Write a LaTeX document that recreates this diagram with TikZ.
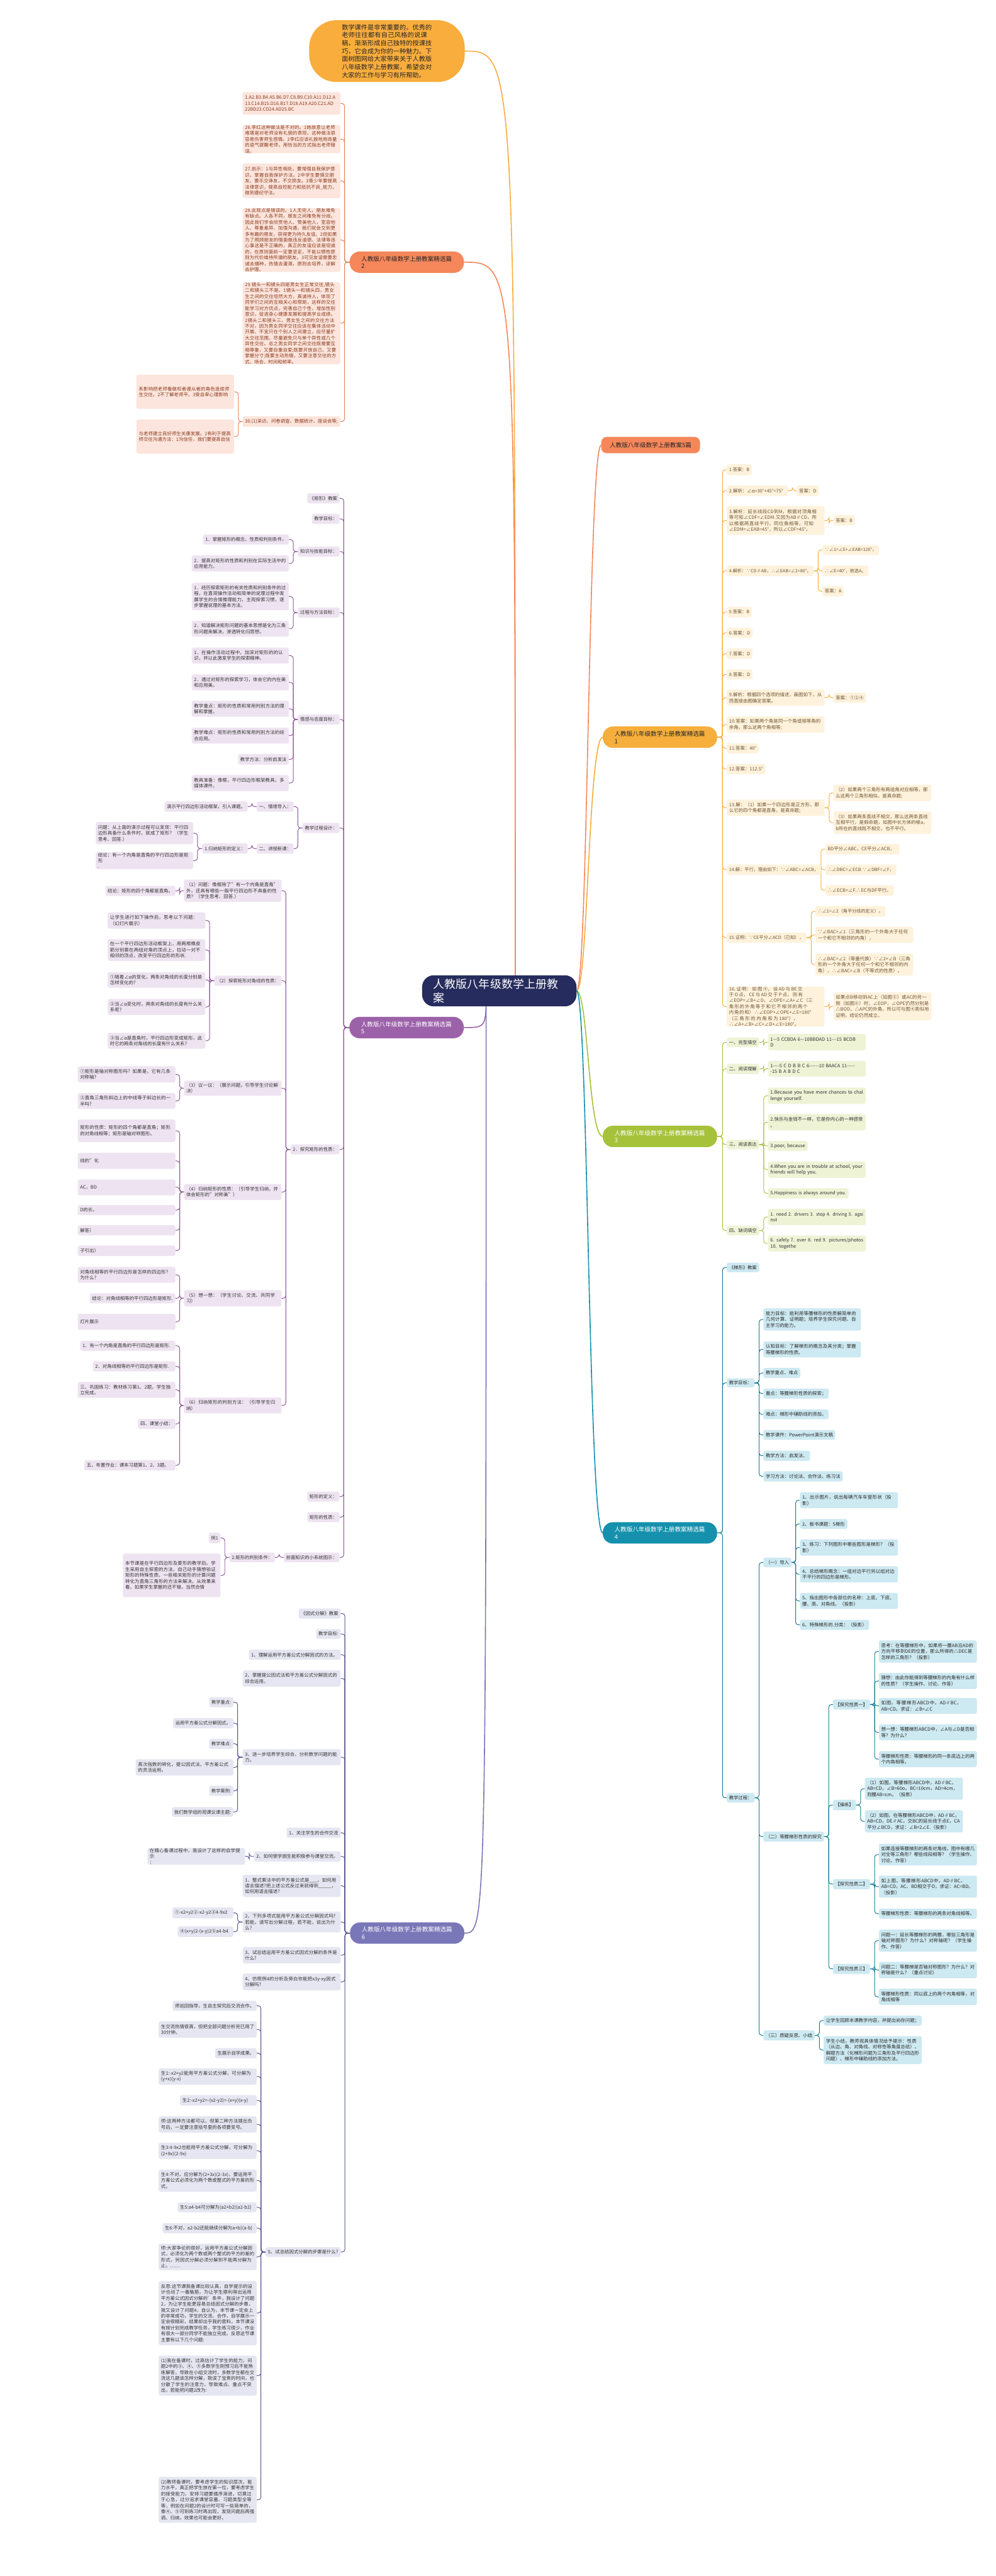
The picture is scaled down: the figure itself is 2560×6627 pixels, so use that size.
\documentclass[tikz,border=0pt]{standalone}
\usepackage{fontspec}
\usepackage{graphicx}
\setmainfont{Noto Sans CJK SC}
\XeTeXlinebreaklocale "zh"
\XeTeXlinebreakskip=0pt plus 1pt
\usetikzlibrary{calc}
\pgfdeclarelayer{back}\pgfdeclarelayer{bg}
\pgfsetlayers{back,bg,main}
\definecolor{bubO}{HTML}{F9AD3D}
\definecolor{c1node}{HTML}{F5875B}\definecolor{c1line}{HTML}{E9825A}\definecolor{c1fill}{HTML}{FCE5DC}\definecolor{c1text}{HTML}{8A3A1E}
\definecolor{c2node}{HTML}{F6AE3C}\definecolor{c2line}{HTML}{F4B03E}\definecolor{c2fill}{HTML}{FEF2DC}\definecolor{c2text}{HTML}{6E5433}
\definecolor{c3node}{HTML}{A6C23A}\definecolor{c3line}{HTML}{A9C43C}\definecolor{c3fill}{HTML}{EEF3D6}\definecolor{c3text}{HTML}{333333}
\definecolor{c4node}{HTML}{1591AD}\definecolor{c4line}{HTML}{167C93}\definecolor{c4fill}{HTML}{CDE9F1}\definecolor{c4text}{HTML}{2A2A2A}
\definecolor{c5node}{HTML}{9C62A9}\definecolor{c5line}{HTML}{8C5A98}\definecolor{c5fill}{HTML}{EEE4F1}\definecolor{c5text}{HTML}{333333}
\definecolor{c6node}{HTML}{7A77B8}\definecolor{c6line}{HTML}{5A5990}\definecolor{c6fill}{HTML}{E6E6F2}\definecolor{c6text}{HTML}{333333}
\definecolor{ctrC}{HTML}{262C5D}
\newcommand\fs{\fontsize{12}{15.3}\selectfont}
\newcommand\ft{\fontsize{15.5}{19}\selectfont}
\newsavebox\fitsb
\newcommand\fitbox[2]{\pgfmathsetlengthmacro\fbw{#1}\sbox\fitsb{#2}\ifdim\wd\fitsb>\fbw\relax\resizebox{\fbw}{!}{\usebox\fitsb}\else\usebox\fitsb\fi}
\tikzset{
  every node/.style={inner sep=0pt,outer sep=0pt},
  bxs/.style={rounded corners=5pt,align=left,font=\fs},
  k1/.style={bxs,fill=c1fill,text=c1text},
  k2/.style={bxs,fill=c2fill,text=c2text},
  k3/.style={bxs,fill=c3fill,text=c3text},
  k4/.style={bxs,fill=c4fill,text=c4text},
  k5/.style={bxs,fill=c5fill,text=c5text},
  k6/.style={bxs,fill=c6fill,text=c6text},
  ln/.style={line width=1.6pt,rounded corners=7pt},
  l1/.style={ln,draw=c1line}, l2/.style={ln,draw=c2line}, l3/.style={ln,draw=c3line},
  l4/.style={ln,draw=c4line}, l5/.style={ln,draw=c5line}, l6/.style={ln,draw=c6line},
  crv/.style={line width=2.6pt},
  ttl/.style={rounded corners=26pt,align=left,font=\ft,minimum width=294,minimum height=55,text width=234},
}
\newcommand\bx[7]{\node[#2,minimum width={#5-#3},minimum height={#6-#4},text width={#5-#3-12}] (#1) at ({(#3+#5)/2},{(#4+#6)/2}) {#7};}
\newcommand\bl[7]{\bx{#1}{#2}{#3}{#4}{#5}{#6}{\fitbox{#5-#3-12}{#7}}}
\newcommand\cR[3]{\draw[#1] (#2.east) -| ([xshift=-11pt]#3.west) -- (#3.west);}
\newcommand\cL[3]{\draw[#1] (#2.west) -| ([xshift=11pt]#3.east) -- (#3.east);}
\newcommand\crR[2]{\draw[crv,#1] (ctr.east) .. controls ([xshift=30pt]ctr.east) and ([xshift=30pt]ctr.east |- #2.west) .. (#2.west);}
\begin{document}
\begin{tikzpicture}[x=1pt,y=-1pt]
\begin{pgfonlayer}{back}\fill[white] (0,0) rectangle (2560,6627);\end{pgfonlayer}
\useasboundingbox (0,0) rectangle (2560,6627);
% ---------- centre and top bubble
\node[fill=ctrC,text=white,rounded corners=30pt,minimum width=397,minimum height=80,text width=340,align=left,font=\fontsize{29}{36}\selectfont] (ctr) at (1284,2549) {人教版八年级数学上册教案};
\coordinate (hubT) at (1325,2549);
\coordinate (hubB) at (1250,2549);
\node[fill=bubO,rounded corners=70pt,minimum width=400,minimum height=159,text width=232,align=left,text=black!85,font=\fontsize{16.5}{20.4}\selectfont] (bub) at (995,131.5) {数学课件是非常重要的。优秀的老师往往都有自己风格的说课稿，渐渐形成自己独特的授课技巧，它会成为你的一种魅力。下面树图网给大家带来关于人教版八年级数学上册教案，希望会对大家的工作与学习有所帮助。};
\node[fill=c1node,rounded corners=14pt,minimum width=254,minimum height=42,font=\ft,text=black!85] (b0) at (1673,1145) {人教版八年级数学上册教案5篇};
% ---------- branch titles
\node[ttl,fill=c1node,text=black!85] (b1) at (1046,674.5) {人教版八年级数学上册教案精选篇2};
\node[ttl,fill=c2node,text=black!85] (b2) at (1697,1896.5) {人教版八年级数学上册教案精选篇1};
\node[ttl,fill=c3node,text=white] (b3) at (1697,2923.5) {人教版八年级数学上册教案精选篇3};
\node[ttl,fill=c4node,text=white] (b4) at (1697,3943.5) {人教版八年级数学上册教案精选篇4};
\node[ttl,fill=c5node,text=white] (b5) at (1045.5,2643.5) {人教版八年级数学上册教案精选篇5};
\node[ttl,fill=c6node,text=white] (b6) at (1047,4973) {人教版八年级数学上册教案精选篇6};
% ---------- branch 1
\bx{b1c1}{k1}{624}{237}{875}{295}{1.A2.B3.B4.A5.B6.D7.C8.B9.C10.A11.D12.A\\13.C14.B15.D16.B17.D18.A19.A20.C21.AD\\22BD23.CD24.AD25.BC}
\bx{b1c2}{k1}{624}{322}{875}{394}{26.李红这种做法是不对的。1她故意让老师难堪是对老师没有礼貌的表现，这种做法很容易伤害师生感情。2李红应该礼貌地用商量的语气提醒老师，用恰当的方式指出老师错误。}
\bx{b1c3}{k1}{624}{421}{875}{510}{27.启示：1与异性相处，要增强自我保护意识，掌握自我保护方法。2中学生要慎交朋友，要乐交诤友，不交损友。3青少年要提高法律意识，提高自控能力和抵抗不良\_能力，做到遵纪守法。}
\bx{b1c4}{k1}{624}{536}{875}{699}{28.此观点是错误的。1人无完人，朋友难免有缺点。人各不同，朋友之间难免有分歧。因此我们学会欣赏他人、赞美他人，宽容他人、尊重差异、加强沟通，我们就会交到更多有趣的朋友，获得更为持久友谊。2但如果为了照顾朋友的情面做违反道德、法律等违心事这是不正确的，真正的友谊应该是坦诚的，在原则面前一定要坚定，不能以牺牲原则为代价维持所谓的朋友。3可见友谊需要忠诚去播种，热情去灌溉，原则去培养，谅解去护理。}
\bx{b1c5}{k1}{624}{726}{875}{937}{29.镜头一和镜头四是男女生正常交往,镜头二和镜头三不是。1镜头一和镜头四，男女生之间的交往坦然大方，真诚待人，体现了同学们之间的互相关心和帮助，这样的交往能学习对方优点，完善自己个性，增加性别意识，促进身心健康发展和提高学业成绩。2镜头二和镜头三，男女生之间的交往方法不对，因为男女同学交往应该在集体活动中开展，不宜只在个别人之间建立，应尽量扩大交往范围，尽量避免只与单个异性或几个异性交往。总之男女同学之间交往既需要互相尊重，又要自重自爱;既要开放自己，又要掌握分寸;既要主动热情，又要注意交往的方式、场合、时间和频率。}
\bl{b1c6}{k1}{624}{1071}{875}{1098}{30.(1)采访、问卷调查、数据统计、座谈会等;}
\bx{b1c6a}{k1}{351}{964}{602}{1052}{系影响把老师看做权者遵从者的角色造成师生交往。2不了解老师平。3受自卑心理影响}
\bx{b1c6b}{k1}{351}{1079}{602}{1167}{与老师建立良好师生关康发展。2有利于提高师交往沟通方法：1沟信任，我们要提高自信}
% ---------- branch 2
\bl{b2c1}{k2}{1869}{1194}{1933}{1223}{1.答案：B}
\bl{b2c2}{k2}{1869}{1249}{2026}{1276}{2.解析：∠α=30°+45°=75°}
\bl{b2c2a}{k2}{2049}{1249}{2105}{1276}{答案：D}
\bx{b2c3}{k2}{1869}{1302}{2120}{1376}{3.解析：延长线段CD到M，根据对顶角相等可知∠CDF=∠EDM.又因为AB∥CD，所以根据两直线平行，同位角相等，可知∠EDM=∠EAB=45°，所以∠CDF=45°。}
\bl{b2c3a}{k2}{2143}{1325}{2198}{1352}{答案：B}
\bl{b2c4}{k2}{1869}{1455}{2092}{1482}{4.解析：∵CD∥AB，∴∠EAB=∠2=80°。}
\bl{b2c4a}{k2}{2115}{1402}{2260}{1428}{∵∠1=∠E+∠EAB=120°，}
\bl{b2c4b}{k2}{2115}{1455}{2233}{1482}{∴∠E=40°，故选A。}
\bl{b2c4c}{k2}{2115}{1508}{2170}{1534}{答案：A}
\bl{b2c5}{k2}{1869}{1561}{1933}{1588}{5.答案：B}
\bl{b2c6}{k2}{1869}{1615}{1935}{1641}{6.答案：D}
\bl{b2c7}{k2}{1869}{1668}{1935}{1695}{7.答案：D}
\bl{b2c8}{k2}{1869}{1722}{1935}{1748}{8.答案：D}
\bx{b2c9}{k2}{1869}{1774}{2120}{1816}{9.解析：根据四个选项的描述，画图如下，从而直接由图确定答案。}
\bl{b2c9a}{k2}{2143}{1782}{2227}{1808}{答案：①②④}
\bx{b2c10}{k2}{1869}{1843}{2120}{1885}{10.答案：如果两个角是同一个角或相等角的余角，那么这两个角相等;}
\bl{b2c11}{k2}{1869}{1912}{1951}{1938}{11.答案：40°}
\bl{b2c12}{k2}{1869}{1965}{1968}{1992}{12.答案：112.5°}
\bx{b2c13}{k2}{1869}{2057}{2120}{2099}{13.解：（1）如果一个四边形是正方形，那么它的四个角都是直角，是真命题;}
\bx{b2c13a}{k2}{2143}{2019}{2395}{2061}{（2）如果两个三角形有两组角对应相等，那么这两个三角形相似，是真命题;}
\bx{b2c13b}{k2}{2143}{2087}{2395}{2145}{（3）如果两条直线不相交，那么这两条直线互相平行，是假命题，如图中长方体的棱a，b所在的直线既不相交，也不平行。}
\bl{b2c14}{k2}{1869}{2224}{2111}{2251}{14.解：平行，理由如下：∵∠ABC=∠ACB，}
\bl{b2c14a}{k2}{2122}{2171}{2313}{2198}{BD平分∠ABC，CE平分∠ACB，}
\bl{b2c14b}{k2}{2122}{2224}{2305}{2251}{∴∠DBC=∠ECB.∵∠DBF=∠F，}
\bl{b2c14c}{k2}{2122}{2277}{2298}{2304}{∴∠ECB=∠F.∴EC与DF平行。}
\bl{b2c15}{k2}{1869}{2399}{2073}{2425}{15.证明：∵CE平分∠ACD（已知），}
\bl{b2c15a}{k2}{2097}{2331}{2277}{2358}{∴∠1=∠2（角平分线的定义）。}
\bx{b2c15b}{k2}{2097}{2384}{2348}{2426}{∵∠BAC>∠1（三角形的一个外角大于任何一个和它不相邻的内角），}
\bx{b2c15c}{k2}{2097}{2453}{2348}{2510}{∴∠BAC>∠2（等量代换）∵∠2>∠B（三角形的一个外角大于任何一个和它不相邻的内角），∴∠BAC>∠B（不等式的性质）。}
\bx{b2c16}{k2}{1869}{2538}{2120}{2641}{16.证明：如图④，设AD与BE交于O点，CE与AD交于P点，则有∠EOP=∠B+∠D，∠OPE=∠A+∠C（三角形的外角等于和它不相邻的两个内角的和）∴∠EOP+∠OPE+∠E=180°（三角形的内角和为180°），∴∠A+∠B+∠C+∠D+∠E=180°。}
\bx{b2c16a}{k2}{2143}{2553}{2395}{2625}{如果点B移动到AC上（如图⑤）或AC的另一侧（如图⑥）时，∠EOP，∠OPE仍然分别是△BOD，△APC的外角，所以可与图④类似地证明，结论仍然成立。}
% ---------- branch 3
\bl{b3c1}{k3}{1869}{2669}{1952}{2694}{一、完型填空}
\bx{b3c1a}{k3}{1975}{2660}{2226}{2702}{\fitbox{239}{1—5 CCBDA 6—10BBDAD 11-{}-{}-15 BCDB}\\D}
\bl{b3c2}{k3}{1869}{2737}{1952}{2763}{二、阅读理解}
\bx{b3c2a}{k3}{1975}{2729}{2226}{2770}{\fitbox{239}{1-{}-{}-{}-5 C D B B C 6-{}-{}-{}-{}-{}-10 BAACA 11-{}-{}-{}-{}-}\\\mbox{-15 B A B D C}}
\bl{b3c3}{k3}{1869}{2932}{1952}{2957}{三、阅读表达}
\bx{b3c3a}{k3}{1975}{2798}{2226}{2840}{\fitbox{239}{1.Because you have more chances to chal}\\lenge yourself.}
\bx{b3c3b}{k3}{1975}{2866}{2226}{2908}{2.快乐与金钱不一样，它是你内心的一种感受\\。}
\bl{b3c3c}{k3}{1975}{2935}{2077}{2961}{3.poor, because}
\bx{b3c3d}{k3}{1975}{2988}{2226}{3030}{\fitbox{239}{4.When you are in trouble at school, your}\\ friends will help you.}
\bl{b3c3e}{k3}{1975}{3057}{2182}{3083}{5.Happiness is always around you.}
\bl{b3c4}{k3}{1869}{3153}{1952}{3178}{四、缺词填空}
\bx{b3c4a}{k3}{1975}{3110}{2226}{3152}{\fitbox{239}{1. need 2. drivers 3. stop 4. driving 5. agai}\\nst}
\bx{b3c4b}{k3}{1975}{3178}{2226}{3220}{\fitbox{239}{6. safely 7. over 8. red 9. pictures/photos}\\10. togethe}
% ---------- branch 4
\bl{b4c1}{k4}{1869}{3248}{1952}{3273}{《梯形》教案}
\bl{b4c2}{k4}{1869}{3546}{1940}{3569}{教学目标：}
\bx{b4c2a}{k4}{1963}{3366}{2214}{3423}{能力目标：能利用等腰梯形的性质解简单的几何计算、证明题；培养学生探究问题、自主学习的能力。}
\bx{b4c2b}{k4}{1963}{3451}{2214}{3492}{认知目标：了解梯形的概念及其分类；掌握等腰梯形的性质。}
\bl{b4c2c}{k4}{1963}{3519}{2058}{3545}{教学重点、难点}
\bl{b4c2d}{k4}{1963}{3572}{2131}{3598}{重点：等腰梯形性质的探索；}
\bl{b4c2e}{k4}{1963}{3626}{2131}{3651}{难点：梯形中辅助线的添加。}
\bl{b4c2f}{k4}{1963}{3679}{2148}{3704}{教学课件：PowerPoint演示文稿}
\bl{b4c2g}{k4}{1963}{3732}{2083}{3758}{教学方法：启发法、}
\bl{b4c2h}{k4}{1963}{3785}{2167}{3811}{学习方法：讨论法、合作法、练习法}
\bl{b4c3}{k4}{1869}{4613}{1940}{4637}{教学过程：}
\bl{b4c3a}{k4}{1963}{4007}{2035}{4032}{（一）导入}
\bx{b4c3a1}{k4}{2057}{3839}{2309}{3880}{1、出示图片，说出每辆汽车车窗形状（投影）}
\bl{b4c3a2}{k4}{2057}{3908}{2179}{3933}{2、板书课题：5梯形}
\bx{b4c3a3}{k4}{2057}{3960}{2309}{4002}{3、练习：下列图形中哪些图形是梯形？（投影）}
\bx{b4c3a4}{k4}{2057}{4029}{2309}{4071}{4、总结梯形概念：一组对边平行另以组对边不平行的四边形是梯形。}
\bx{b4c3a5}{k4}{2057}{4098}{2309}{4139}{5、指出图形中各部位的名称：上底、下底、腰、高、对角线。（投影）}
\bl{b4c3a6}{k4}{2057}{4167}{2235}{4193}{6、特殊梯形的.分类：（投影）}
\bl{b4c3b}{k4}{1963}{4712}{2119}{4738}{（二）等腰梯形性质的探究}
\bl{b4c3b1}{k4}{2142}{4372}{2237}{4398}{【探究性质一】}
\bx{b4c3b1a}{k4}{2260}{4220}{2512}{4277}{思考：在等腰梯形中，如果将一腰AB沿AD的方向平移到DE的位置，那么所得的△DEC是怎样的三角形？（投影）}
\bx{b4c3b1b}{k4}{2260}{4304}{2512}{4345}{猜想：由此你能得到等腰梯形的内角有什么样的性质？（学生操作、讨论、作答）}
\bx{b4c3b1c}{k4}{2260}{4368}{2512}{4409}{如图，等腰梯形ABCD中，AD∥BC，AB=CD。求证：∠B=∠C}
\bx{b4c3b1d}{k4}{2260}{4436}{2512}{4477}{想一想：等腰梯形ABCD中，∠A与∠D是否相等？为什么？}
\bx{b4c3b1e}{k4}{2260}{4505}{2512}{4546}{等腰梯形性质：等腰梯形的同一条底边上的两个内角相等。}
\bl{b4c3b2}{k4}{2142}{4630}{2201}{4657}{【操练】}
\bx{b4c3b2a}{k4}{2224}{4573}{2476}{4630}{（1）如图，等腰梯形ABCD中，AD∥BC，AB=CD，∠B=60o，BC=10cm，AD=4cm，则腰AB=cm。（投影）}
\bx{b4c3b2b}{k4}{2224}{4657}{2476}{4714}{（2）如图，在等腰梯形ABCD中，AD∥BC，AB=CD，DE∥AC，交BC的延长线于点E，CA平分∠BCD，求证：∠B=2∠E.（投影）}
\bl{b4c3b3}{k4}{2142}{4834}{2237}{4860}{【探究性质二】}
\bx{b4c3b3a}{k4}{2260}{4743}{2512}{4799}{如果连接等腰梯形的两条对角线，图中有哪几对全等三角形？哪些线段相等？（学生操作、讨论、作答）}
\bx{b4c3b3b}{k4}{2260}{4825}{2512}{4882}{如上图，等腰梯形ABCD中，AD∥BC，AB=CD，AC、BD相交于O，求证：AC=BD。（投影）}
\bl{b4c3b3c}{k4}{2260}{4910}{2512}{4936}{等腰梯形性质：等腰梯形的两条对角线相等。}
\bl{b4c3b4}{k4}{2142}{5052}{2237}{5078}{【探究性质三】}
\bx{b4c3b4a}{k4}{2260}{4964}{2512}{5021}{问题一：延长等腰梯形的两腰，哪些三角形是轴对称图形？为什么？对称轴呢？（学生操作、作答）}
\bx{b4c3b4b}{k4}{2260}{5047}{2512}{5089}{问题二：等腰梯是否轴对称图形？为什么？对称轴是什么？（重点讨论）}
\bx{b4c3b4c}{k4}{2260}{5116}{2512}{5158}{等腰梯形性质：同以底上的两个内角相等，对角线相等}
\bl{b4c3c}{k4}{1963}{5223}{2095}{5249}{（三）质疑反思、小结}
\bl{b4c3c1}{k4}{2118}{5185}{2370}{5211}{让学生回顾本课教学内容，并提出尚存问题；}
\bx{b4c3c2}{k4}{2118}{5238}{2370}{5310}{学生小结，教师视具体情况给予提示：性质（从边、角、对角线、对称性等角度总结）、解题方法（化梯形问题为三角形及平行四边形问题）、梯形中辅助线的添加方法。}
% ---------- branch 5
\bl{b5c1}{k5}{790}{1269}{873}{1295}{《矩形》教案}
\bl{b5c2}{k5}{802}{1322}{873}{1348}{教学目标：}
\bl{b5c3}{k5}{766}{1406}{873}{1432}{知识与技能目标：}
\bl{b5c3a}{k5}{522}{1375}{743}{1401}{1．掌握矩形的概念、性质和判别条件。}
\bx{b5c3b}{k5}{493}{1429}{743}{1470}{2．提高对矩形的性质和判别在实际生活中的应用能力。}
\bl{b5c4}{k5}{766}{1563}{873}{1589}{过程与方法目标：}
\bx{b5c4a}{k5}{493}{1499}{743}{1570}{1．经历探索矩形的有关性质和判别条件的过程，在直观操作活动和简单的说理过程中发展学生的合情推理能力，主观探索习惯，逐步掌握说理的基本方法。}
\bx{b5c4b}{k5}{493}{1597}{743}{1638}{2．知道解决矩形问题的基本思想是化为三角形问题来解决，渗透转化归思想。}
\bl{b5c5}{k5}{766}{1838}{873}{1864}{情感与态度目标：}
\bx{b5c5a}{k5}{493}{1666}{743}{1707}{1．在操作活动过程中，加深对矩形的的认识，并以此激发学生的探索精神。}
\bx{b5c5b}{k5}{493}{1735}{743}{1776}{2．通过对矩形的探索学习，体会它的内在美和应用美。}
\bx{b5c5c}{k5}{493}{1803}{743}{1844}{教学重点：矩形的性质和常用判别方法的理解和掌握。}
\bx{b5c5d}{k5}{493}{1872}{743}{1913}{教学难点：矩形的性质和常用判别方法的综合应用。}
\bl{b5c5e}{k5}{612}{1940}{743}{1967}{教学方法：分析启发法}
\bx{b5c5f}{k5}{493}{1994}{743}{2035}{教具准备：像框，平行四边形框架教具，多媒体课件。}
\bl{b5c6}{k5}{778}{2117}{873}{2143}{教学过程设计：}
\bl{b5c6a}{k5}{660}{2062}{755}{2088}{一、情境导入：}
\bl{b5c6a1}{k5}{423}{2062}{637}{2088}{演示平行四边形活动框架，引入课题。}
\bl{b5c6b}{k5}{660}{2170}{755}{2196}{二、讲授新课：}
\bl{b5c6b1}{k5}{520}{2170}{637}{2196}{1.归纳矩形的定义：}
\bx{b5c6b1a}{k5}{246}{2115}{497}{2172}{问题：从上面的演示过程可以发现：平行四边形具备什么条件时，就成了矩形？（学生思考、回答.）}
\bx{b5c6b1b}{k5}{246}{2192}{497}{2236}{结论：有一个内角是直角的平行四边形是矩形\\.}
\bl{b5c7}{k5}{747}{2944}{873}{2970}{2．探究矩形的性质：}
\bx{b5c7a}{k5}{473}{2263}{724}{2320}{（1）问题：像框除了"有一个内角是直角"外，还具有哪些一般平行四边形不具备的性质？（学生思考、回答.）}
\bl{b5c7a1}{k5}{271}{2279}{451}{2305}{结论：矩形的四个角都是直角。}
\bl{b5c7b}{k5}{551}{2510}{724}{2536}{（2）探索矩形对角线的性质：}
\bx{b5c7b1}{k5}{277}{2347}{528}{2389}{让学生进行如下操作后，思考以下问题：（幻灯片展示）}
\bx{b5c7b2}{k5}{277}{2416}{528}{2472}{在一个平行四边形活动框架上，用两根橡皮筋分别套在两组对角的顶点上，拉动一对不相邻的顶点，改变平行四边形的形状.}
\bx{b5c7b3}{k5}{277}{2501}{528}{2541}{①随着∠α的变化，两条对角线的长度分别是怎样变化的?}
\bx{b5c7b4}{k5}{277}{2570}{528}{2611}{②当∠α变化时，两条对角线的长度有什么关系呢?}
\bx{b5c7b5}{k5}{277}{2657}{528}{2698}{③当∠α是直角时，平行四边形变成矩形，此时它的两条对角线的长度有什么关系?}
\bx{b5c7c}{k5}{473}{2780}{724}{2819}{（3）议一议：（展示问题，引导学生讨论解决）}
\bx{b5c7c1}{k5}{200}{2743}{451}{2785}{①矩形是轴对称图形吗？如果是，它有几条对称轴?}
\bx{b5c7c2}{k5}{200}{2812}{451}{2853}{②直角三角形斜边上的中线等于斜边长的一半吗?}
\bx{b5c7d}{k5}{473}{3046}{724}{3087}{（4）归纳矩形的性质：（引导学生归纳，并体会矩形的"对称美"）}
\bx{b5c7d1}{k5}{200}{2880}{451}{2938}{矩形的性质：矩形的四个角都是直角；矩形的对角线相等；矩形是轴对称图形。}
\bx{b5c7d2}{k5}{200}{2966}{451}{3007}{线的"化}
\bx{b5c7d3}{k5}{200}{3034}{451}{3075}{AC，BD}
\bl{b5c7d4}{k5}{200}{3100}{451}{3126}{D的长。}
\bl{b5c7d5}{k5}{200}{3152}{451}{3178}{解答）}
\bl{b5c7d6}{k5}{200}{3204}{451}{3231}{子引出）}
\bx{b5c7e}{k5}{473}{3319}{724}{3361}{（5）想一想：（学生讨论、交流、共同学习）}
\bx{b5c7e1}{k5}{200}{3259}{451}{3300}{对角线相等的平行四边形是怎样的四边形？为什么?}
\bl{b5c7e2}{k5}{231}{3327}{451}{3353}{结论：对角线相等的平行四边形是矩形.}
\bx{b5c7e3}{k5}{200}{3380}{451}{3421}{灯片展示}
\bx{b5c7f}{k5}{473}{3595}{724}{3636}{（6）归纳矩形的判别方法：（引导学生归纳）}
\bl{b5c7f1}{k5}{206}{3449}{451}{3475}{1．有一个内角是直角的平行四边形是矩形.}
\bl{b5c7f2}{k5}{239}{3502}{451}{3528}{2．对角线相等的平行四边形是矩形.}
\bx{b5c7f3}{k5}{200}{3555}{451}{3596}{三、巩固练习：教材练习第1、2题，学生独立完成。}
\bl{b5c7f4}{k5}{355}{3650}{451}{3676}{四、课堂小结：}
\bl{b5c7f5}{k5}{217}{3756}{451}{3783}{五、布置作业：课本习题第1、2、3题。}
\bl{b5c8}{k5}{790}{3837}{873}{3863}{矩形的定义：}
\bl{b5c9}{k5}{790}{3890}{873}{3916}{矩形的性质：}
\bl{b5c10}{k5}{730}{3994}{873}{4019}{前面知识的小系统图示：}
\bl{b5c10a}{k5}{590}{3994}{707}{4019}{2.矩形的判别条件：}
\bl{b5c10a1}{k5}{537}{3943}{567}{3970}{例1}
\bx{b5c10a2}{k5}{316}{3997}{567}{4109}{本节课是在平行四边形及菱形的教学后。学生采用自主探索的方法，自己动手猜想验证矩形的特殊性质。一些相关矩形的计算问题转化为直角三角形的方法来解决。从效果来看，如果学生掌握的还不错，当然合情}
% ---------- branch 6
\bl{b6c1}{k6}{768}{4138}{876}{4164}{《因式分解》教案}
\bl{b6c2}{k6}{813}{4191}{876}{4216}{教学目标:}
\bl{b6c3}{k6}{640}{4244}{876}{4270}{1、理解运用平方差公式分解因式的方法。}
\bx{b6c4}{k6}{624}{4297}{876}{4339}{2、掌握提公因式法和平方差公式分解因式的综合运用。}
\bx{b6c5}{k6}{624}{4500}{876}{4541}{3、进一步培养学生综合、分析数学问题的能力。}
\bl{b6c5a}{k6}{538}{4366}{600}{4392}{教学重点:}
\bl{b6c5b}{k6}{445}{4420}{600}{4446}{运用平方差公式分解因式。}
\bl{b6c5c}{k6}{538}{4473}{600}{4499}{教学难点:}
\bx{b6c5d}{k6}{349}{4526}{600}{4568}{高次指数的转化，提公因式法，平方差公式的灵活运用。}
\bl{b6c5e}{k6}{538}{4594}{600}{4620}{教学案例:}
\bl{b6c5f}{k6}{442}{4649}{600}{4674}{我们数学组的观课议课主题:}
\bl{b6c6}{k6}{737}{4702}{876}{4728}{1、关注学生的合作交流}
\bl{b6c7}{k6}{653}{4763}{876}{4789}{2、如何使学困生能积极参与课堂交流。}
\bx{b6c7a}{k6}{379}{4754}{630}{4797}{在精心备课过程中，我设计了这样的自学提示\\：}
\bx{b6c8}{k6}{624}{4823}{876}{4880}{1、整式乘法中的平方差公式是\_\_\_，如何用语言描述?把上述公式反过来就得到\_\_\_\_\_，如何用语言描述?}
\bx{b6c9}{k6}{624}{4918}{876}{4971}{2、下列多项式能用平方差公式分解因式吗?若能，请写出分解过程，若不能，说出为什么?}
\bl{b6c9a}{k6}{443}{4907}{600}{4935}{①-x2+y2②-x2-y2③4-9x2}
\bl{b6c9b}{k6}{457}{4956}{600}{4983}{④(x+y)2-(x-y)2⑤a4-b4}
\bx{b6c10}{k6}{624}{5009}{876}{5051}{3、试总结运用平方差公式因式分解的条件是什么?}
\bx{b6c11}{k6}{624}{5077}{876}{5120}{4、仿照例4的分析及旁白你能把x3y-xy因式分解吗?}
\bl{b6c12}{k6}{683}{5781}{876}{5806}{5、试总结因式分解的步骤是什么?}
\bl{b6c12a}{k6}{444}{5147}{660}{5173}{师巡回指导，生自主探究后交流合作。}
\bx{b6c12b}{k6}{408}{5200}{660}{5242}{生交流热情很高，但把全部问题分析完已用了30分钟。}
\bl{b6c12c}{k6}{553}{5269}{660}{5295}{生展示自学成果。}
\bx{b6c12d}{k6}{408}{5321}{660}{5363}{生1:-x2+y2能用平方差公式分解，可分解为(y+x)(y-x)}
\bl{b6c12e}{k6}{463}{5390}{660}{5417}{生2:-x2+y2=-(x2-y2)=-(x+y)(x-y)}
\bx{b6c12f}{k6}{408}{5444}{660}{5486}{师:这两种方法都可以，但第二种方法提出负号后，一定要注意括号里的各项要变号。}
\bx{b6c12g}{k6}{408}{5512}{660}{5554}{生3:4-9x2也能用平方差公式分解，可分解为(2+9x)(2-9x)}
\bx{b6c12h}{k6}{408}{5581}{660}{5638}{生4:不对，应分解为(2+3x)(2-3x)，要运用平方差公式必须化为两个数或整式的平方差的形式。}
\bl{b6c12i}{k6}{457}{5666}{660}{5691}{生5:a4-b4可分解为(a2+b2)(a2-b2)}
\bl{b6c12j}{k6}{418}{5719}{660}{5745}{生6:不对，a2-b2还能继续分解为a+b)(a-b)}
\bx{b6c12k}{k6}{408}{5772}{660}{5840}{师:大家争论的很好，运用平方差公式分解因式，必须化为两个数或两个整式的平方的差的形式，另因式分解必须分解到不能再分解为止。……}
\bx{b6c12l}{k6}{408}{5868}{660}{6033}{反思:这节课我备课比较认真，自学提示的设计也动了一番脑筋，为让学生顺利得出运用平方差公式因式分解的'条件，我设计了问题2，为让学生能更容易总结因式分解的步骤，我又设计了问题4，自认为，本节课一定会上的非常成功，学生的交流、合作，自学展示一定会很精彩，结果却出乎我的意料，本节课没有按计划完成教学任务，学生练习很少，作业有很大一部分同学不能独立完成，反思这节课主要有以下几个问题:}
\bx{b6c12m}{k6}{408}{6060}{660}{6163}{(1)我在备课时，过高估计了学生的能力，问题2中的③、④、⑤多数学生刚预习后不能熟练解答，导致在小组交流时，多数学生都在交流这几题该怎样分解，耽误了宝贵的时间，也分散了学生的注意力，导致难点、重点不突出，若能把问题2改为:}
\bx{b6c12n}{k6}{408}{6372}{660}{6490}{(2)教师备课时，要考虑学生的知识层次，能力水平，真正把学生放在第一位，要考虑学生的接受能力，安排习题要循序渐进，切莫过于心急，过分追求课堂容量、习题类型全等等，例如在问题2的设计时可写一些简单的，像④、⑤可到练习时再出现，发现问题后再强调、归纳，效果也可能会更好。}
% ---------- connectors
\begin{pgfonlayer}{bg}
\draw[crv,bubO] (hubT) .. controls (hubT |- bub.east) and (hubT |- bub.east) .. (bub.east);
\draw[crv,c1node] (hubT) .. controls (hubT |- b1.east) and (hubT |- b1.east) .. (b1.east);
\crR{c1node}{b0}\crR{c2node}{b2}\crR{c3node}{b3}\crR{c4node}{b4}
\draw[crv,c5node] (hubB) .. controls (hubB |- b5.east) and (hubB |- b5.east) .. (b5.east);
\draw[crv,c6node] (hubB) .. controls (hubB |- b6.east) and (hubB |- b6.east) .. (b6.east);
\foreach \c in {b1c1,b1c2,b1c3,b1c4,b1c5,b1c6} {\cL{l1}{b1}{\c}}
\cL{l1}{b1c6}{b1c6a}\cL{l1}{b1c6}{b1c6b}
\foreach \c in {b2c1,b2c2,b2c3,b2c4,b2c5,b2c6,b2c7,b2c8,b2c9,b2c10,b2c11,b2c12,b2c13,b2c14,b2c15,b2c16} {\cR{l2}{b2}{\c}}
\cR{l2}{b2c2}{b2c2a}\cR{l2}{b2c3}{b2c3a}\cR{l2}{b2c9}{b2c9a}\cR{l2}{b2c16}{b2c16a}
\foreach \c in {b2c4a,b2c4b,b2c4c} {\cR{l2}{b2c4}{\c}}
\foreach \c in {b2c13a,b2c13b} {\cR{l2}{b2c13}{\c}}
\foreach \c in {b2c14a,b2c14b,b2c14c} {\cR{l2}{b2c14}{\c}}
\foreach \c in {b2c15a,b2c15b,b2c15c} {\cR{l2}{b2c15}{\c}}
\foreach \c in {b3c1,b3c2,b3c3,b3c4} {\cR{l3}{b3}{\c}}
\cR{l3}{b3c1}{b3c1a}\cR{l3}{b3c2}{b3c2a}
\foreach \c in {b3c3a,b3c3b,b3c3c,b3c3d,b3c3e} {\cR{l3}{b3c3}{\c}}
\foreach \c in {b3c4a,b3c4b} {\cR{l3}{b3c4}{\c}}
\foreach \c in {b4c1,b4c2,b4c3} {\cR{l4}{b4}{\c}}
\foreach \c in {b4c2a,b4c2b,b4c2c,b4c2d,b4c2e,b4c2f,b4c2g,b4c2h} {\cR{l4}{b4c2}{\c}}
\foreach \c in {b4c3a,b4c3b,b4c3c} {\cR{l4}{b4c3}{\c}}
\foreach \c in {b4c3a1,b4c3a2,b4c3a3,b4c3a4,b4c3a5,b4c3a6} {\cR{l4}{b4c3a}{\c}}
\foreach \c in {b4c3b1,b4c3b2,b4c3b3,b4c3b4} {\cR{l4}{b4c3b}{\c}}
\foreach \c in {b4c3b1a,b4c3b1b,b4c3b1c,b4c3b1d,b4c3b1e} {\cR{l4}{b4c3b1}{\c}}
\foreach \c in {b4c3b2a,b4c3b2b} {\cR{l4}{b4c3b2}{\c}}
\foreach \c in {b4c3b3a,b4c3b3b,b4c3b3c} {\cR{l4}{b4c3b3}{\c}}
\foreach \c in {b4c3b4a,b4c3b4b,b4c3b4c} {\cR{l4}{b4c3b4}{\c}}
\foreach \c in {b4c3c1,b4c3c2} {\cR{l4}{b4c3c}{\c}}
\foreach \c in {b5c1,b5c2,b5c3,b5c4,b5c5,b5c6,b5c7,b5c8,b5c9,b5c10} {\cL{l5}{b5}{\c}}
\foreach \c in {b5c3a,b5c3b} {\cL{l5}{b5c3}{\c}}
\foreach \c in {b5c4a,b5c4b} {\cL{l5}{b5c4}{\c}}
\foreach \c in {b5c5a,b5c5b,b5c5c,b5c5d,b5c5e,b5c5f} {\cL{l5}{b5c5}{\c}}
\foreach \c in {b5c6a,b5c6b} {\cL{l5}{b5c6}{\c}}
\cL{l5}{b5c6a}{b5c6a1}\cL{l5}{b5c6b}{b5c6b1}
\foreach \c in {b5c6b1a,b5c6b1b} {\cL{l5}{b5c6b1}{\c}}
\foreach \c in {b5c7a,b5c7b,b5c7c,b5c7d,b5c7e,b5c7f} {\cL{l5}{b5c7}{\c}}
\cL{l5}{b5c7a}{b5c7a1}
\foreach \c in {b5c7b1,b5c7b2,b5c7b3,b5c7b4,b5c7b5} {\cL{l5}{b5c7b}{\c}}
\foreach \c in {b5c7c1,b5c7c2} {\cL{l5}{b5c7c}{\c}}
\foreach \c in {b5c7d1,b5c7d2,b5c7d3,b5c7d4,b5c7d5,b5c7d6} {\cL{l5}{b5c7d}{\c}}
\foreach \c in {b5c7e1,b5c7e2,b5c7e3} {\cL{l5}{b5c7e}{\c}}
\foreach \c in {b5c7f1,b5c7f2,b5c7f3,b5c7f4,b5c7f5} {\cL{l5}{b5c7f}{\c}}
\cL{l5}{b5c10}{b5c10a}
\foreach \c in {b5c10a1,b5c10a2} {\cL{l5}{b5c10a}{\c}}
\foreach \c in {b6c1,b6c2,b6c3,b6c4,b6c5,b6c6,b6c7,b6c8,b6c9,b6c10,b6c11,b6c12} {\cL{l6}{b6}{\c}}
\foreach \c in {b6c5a,b6c5b,b6c5c,b6c5d,b6c5e,b6c5f} {\cL{l6}{b6c5}{\c}}
\cL{l6}{b6c7}{b6c7a}
\foreach \c in {b6c9a,b6c9b} {\cL{l6}{b6c9}{\c}}
\foreach \c in {b6c12a,b6c12b,b6c12c,b6c12d,b6c12e,b6c12f,b6c12g,b6c12h,b6c12i,b6c12j,b6c12k,b6c12l,b6c12m,b6c12n} {\cL{l6}{b6c12}{\c}}
\end{pgfonlayer}
\end{tikzpicture}
\end{document}
